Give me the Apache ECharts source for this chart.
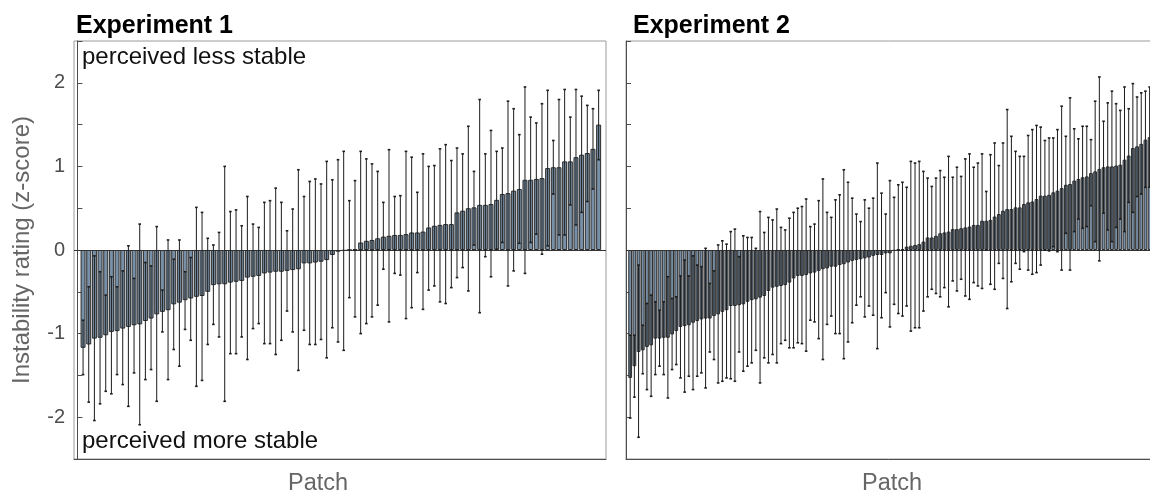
<!DOCTYPE html>
<html>
<head>
<meta charset="utf-8">
<script src="https://cdn.jsdelivr.net/npm/echarts@6/dist/echarts.min.js"></script>
<style>
  html, body { margin: 0; padding: 0; background: #fff; }
  #chart { width: 1150px; height: 496px; }
</style>
</head>
<body>
<div id="chart"></div>
<script>
// Experiment 1: mean rating per patch (sorted) and error bar ends
const exp1Mean = [-1.17, -1.13, -1.06, -1.05, -1.02, -0.98, -0.97, -0.94, -0.92, -0.90,
  -0.89, -0.85, -0.82, -0.77, -0.74, -0.72, -0.65, -0.63, -0.60, -0.58,
  -0.56, -0.55, -0.50, -0.42, -0.41, -0.41, -0.39, -0.38, -0.37, -0.33,
  -0.32, -0.31, -0.28, -0.27, -0.26, -0.26, -0.25, -0.24, -0.23, -0.16,
  -0.16, -0.15, -0.14, -0.12, -0.06, -0.02, -0.01, 0.00, 0.01, 0.09,
  0.11, 0.12, 0.14, 0.16, 0.17, 0.18, 0.18, 0.19, 0.21, 0.21,
  0.22, 0.27, 0.29, 0.30, 0.31, 0.31, 0.45, 0.47, 0.50, 0.51,
  0.54, 0.54, 0.55, 0.60, 0.67, 0.68, 0.71, 0.73, 0.84, 0.84,
  0.85, 0.86, 0.98, 0.99, 0.99, 1.06, 1.06, 1.11, 1.14, 1.16,
  1.21, 1.50];
const exp1Low = [-1.49, -1.82, -2.04, -1.84, -1.69, -1.72, -1.49, -1.61, -1.87, -1.47,
  -2.09, -1.55, -1.43, -1.81, -0.98, -1.55, -1.19, -1.39, -0.95, -1.08,
  -1.63, -1.56, -1.13, -0.89, -1.04, -1.81, -1.24, -1.24, -1.04, -1.31,
  -0.94, -0.88, -1.12, -1.12, -1.25, -1.08, -0.73, -0.98, -1.44, -0.96,
  -1.13, -1.13, -1.07, -1.29, -0.93, -1.10, -1.20, -0.57, -0.80, -1.00,
  -0.88, -0.80, -0.66, -0.23, -0.86, -0.28, -0.30, -0.82, -0.69, -0.27,
  -0.71, -0.48, -0.43, -0.62, -0.64, -0.45, -0.33, -0.21, -0.49, 0.06,
  -0.75, -0.08, -0.32, 0.01, 0.09, -0.43, -0.25, 0.08, -0.28, 0.09,
  0.19, -0.05, 0.05, 0.67, 0.18, 0.18, 0.54, 0.30, 0.45, 0.58,
  0.73, 1.08];
const exp1High = [-0.84, -0.44, -0.07, -0.26, -0.54, -0.32, -0.44, -0.25, 0.05, -0.34,
  0.31, -0.15, -0.19, 0.28, -0.48, 0.12, -0.11, 0.12, -0.26, -0.09,
  0.51, 0.45, 0.14, 0.06, 0.21, 1.00, 0.46, 0.48, 0.29, 0.64,
  0.31, 0.27, 0.57, 0.59, 0.74, 0.57, 0.23, 0.49, 0.96, 0.64,
  0.82, 0.85, 0.79, 1.06, 0.84, 1.08, 1.18, 0.59, 0.83, 1.18,
  1.09, 1.03, 0.94, 0.57, 1.20, 0.64, 0.65, 1.18, 1.11, 0.69,
  1.15, 1.00, 1.01, 1.21, 1.26, 1.07, 1.22, 1.15, 1.48, 0.94,
  1.80, 1.15, 1.43, 1.18, 1.22, 1.78, 1.69, 1.38, 1.95, 1.59,
  1.52, 1.75, 1.91, 1.31, 1.80, 1.92, 1.59, 1.92, 1.84, 1.73,
  1.69, 1.91];

// Experiment 2
const exp2Mean = [-1.53, -1.39, -1.22, -1.20, -1.16, -1.14, -1.06, -1.06, -1.05, -1.05,
  -1.01, -0.97, -0.92, -0.91, -0.90, -0.87, -0.85, -0.83, -0.82, -0.82,
  -0.79, -0.77, -0.74, -0.72, -0.67, -0.67, -0.66, -0.65, -0.62, -0.60,
  -0.59, -0.57, -0.55, -0.49, -0.45, -0.44, -0.43, -0.42, -0.39, -0.34,
  -0.31, -0.31, -0.30, -0.28, -0.27, -0.25, -0.23, -0.22, -0.20, -0.20,
  -0.18, -0.17, -0.15, -0.13, -0.12, -0.11, -0.10, -0.09, -0.07, -0.06,
  -0.06, -0.04, -0.04, -0.01, 0.01, 0.01, 0.04, 0.05, 0.06, 0.07,
  0.10, 0.15, 0.15, 0.17, 0.20, 0.21, 0.22, 0.25, 0.25, 0.26,
  0.27, 0.28, 0.30, 0.30, 0.35, 0.35, 0.36, 0.40, 0.43, 0.47,
  0.49, 0.49, 0.51, 0.51, 0.55, 0.57, 0.58, 0.61, 0.65, 0.65,
  0.66, 0.69, 0.71, 0.74, 0.78, 0.79, 0.83, 0.85, 0.87, 0.88,
  0.92, 0.94, 0.97, 0.99, 1.00, 1.00, 1.01, 1.02, 1.08, 1.13,
  1.22, 1.24, 1.27, 1.32, 1.35, 1.40];
const exp2Low = [-2.01, -1.76, -2.24, -1.48, -1.67, -1.75, -1.49, -1.39, -1.49, -1.77,
  -1.43, -1.37, -1.53, -1.70, -1.51, -1.67, -1.51, -1.47, -1.65, -1.22,
  -1.31, -1.59, -1.57, -1.53, -1.54, -1.57, -1.22, -1.45, -1.39, -1.35,
  -1.20, -1.59, -1.29, -1.35, -1.25, -1.35, -1.12, -1.08, -1.17, -1.17,
  -1.11, -1.12, -1.21, -0.84, -0.86, -1.06, -1.31, -0.89, -0.79, -1.00,
  -1.00, -1.30, -1.10, -0.87, -0.66, -0.56, -0.80, -0.67, -0.78, -1.18,
  -0.81, -0.51, -0.92, -0.65, -0.76, -0.79, -0.67, -0.97, -0.93, -0.93,
  -0.73, -0.56, -0.47, -0.52, -0.56, -0.45, -0.68, -0.37, -0.49, -0.35,
  -0.55, -0.59, -0.39, -0.43, -0.46, 0.00, -0.41, -0.47, -0.16, -0.34,
  -0.70, -0.38, -0.16, -0.23, -0.02, -0.24, -0.29, -0.27, -0.18, 0.00,
  -0.01, 0.04, -0.02, -0.24, 0.20, -0.24, 0.22, 0.37, 0.26, 0.28,
  0.53, 0.10, -0.13, 0.44, 0.24, 0.10, 0.27, 0.37, 0.22, 0.57,
  0.45, 0.64, 0.67, 0.75, 0.75, 0.80];
const exp2High = [-1.02, -1.02, -0.18, -0.90, -0.64, -0.54, -0.62, -0.72, -0.62, -0.32,
  -0.58, -0.56, -0.31, -0.12, -0.31, -0.07, -0.18, -0.20, 0.02, -0.40,
  -0.25, 0.06, 0.11, 0.07, 0.22, 0.25, -0.08, 0.17, 0.15, 0.15,
  0.02, 0.46, 0.21, 0.39, 0.36, 0.49, 0.27, 0.24, 0.38, 0.45,
  0.50, 0.52, 0.61, 0.28, 0.31, 0.59, 0.85, 0.45, 0.39, 0.60,
  0.66, 0.96, 0.81, 0.62, 0.43, 0.34, 0.60, 0.50, 0.62, 1.04,
  0.68, 0.43, 0.83, 0.63, 0.78, 0.81, 0.75, 1.06, 1.04, 1.06,
  0.94, 0.86, 0.76, 0.86, 0.95, 0.87, 1.12, 0.87, 0.99, 0.88,
  1.09, 1.15, 0.99, 1.04, 1.15, 0.70, 1.14, 1.28, 1.01, 1.28,
  1.68, 1.36, 1.18, 1.12, 1.12, 1.37, 1.44, 1.49, 1.47, 1.31,
  1.34, 1.34, 1.44, 1.72, 1.36, 1.82, 1.45, 1.33, 1.48, 1.48,
  1.32, 1.78, 2.07, 1.54, 1.76, 1.90, 1.75, 1.67, 1.95, 1.69,
  1.99, 1.83, 1.88, 1.90, 1.95, 2.00];

const yTickLabels = [-2, -1, 0, 1, 2];

const font = '"Liberation Sans", Arial, Helvetica, sans-serif';
const chart = echarts.init(document.getElementById('chart'));

function barData(means) {
  return means.map((v, i) => [i + 1, v]);
}
function errData(lo, hi) {
  return lo.map((l, i) => [i + 1, l, hi[i]]);
}

// draws one error bar with little caps
function renderErr(params, api) {
  const x = api.value(0);
  const lo = api.coord([x, api.value(1)]);
  const hi = api.coord([x, api.value(2)]);
  const cap = 1.3;
  const st = { stroke: '#1c1c1c', lineWidth: 1 };
  const capSt = { stroke: '#1c1c1c', lineWidth: 1.6 };
  return {
    type: 'group',
    children: [
      { type: 'line', shape: { x1: lo[0], y1: lo[1], x2: hi[0], y2: hi[1] }, style: st },
      { type: 'line', shape: { x1: lo[0] - cap, y1: lo[1], x2: lo[0] + cap, y2: lo[1] }, style: capSt },
      { type: 'line', shape: { x1: hi[0] - cap, y1: hi[1], x2: hi[0] + cap, y2: hi[1] }, style: capSt }
    ]
  };
}

function makeY(idx, labels) {
  return {
    gridIndex: idx,
    type: 'value',
    min: -2.5,
    max: 2.5,
    interval: 0.5,
    axisLine: { show: true, lineStyle: { color: '#4d4d4d', width: 1 } },
    axisTick: { show: true, inside: true, length: 5, lineStyle: { color: '#4d4d4d' } },
    axisLabel: {
      show: labels,
      margin: 9,
      color: '#4d4d4d',
      fontSize: 20,
      fontFamily: font,
      formatter: v => (yTickLabels.indexOf(v) >= 0 ? String(v) : '')
    },
    splitLine: { show: false },
    name: labels ? 'Instability rating (z-score)' : '',
    nameLocation: 'middle',
    nameGap: 40,
    nameTextStyle: { color: '#666', fontSize: 24, fontFamily: font }
  };
}

function makeX(idx, max, min, shift) {
  return {
    gridIndex: idx,
    type: 'value',
    min: min,
    max: max,
    axisLine: { show: true, onZero: false, lineStyle: { color: '#4d4d4d', width: 1 } },
    axisTick: { show: false },
    axisLabel: { show: false },
    splitLine: { show: false },
    name: 'Patch',
    nameLocation: 'middle',
    nameGap: 13,
    nameTextStyle: {
      color: '#666', fontSize: 23.5, fontFamily: font,
      padding: shift > 0 ? [0, shift, 0, 0] : 0
    }
  };
}

const zeroLine = {
  silent: true,
  symbol: 'none',
  label: { show: false },
  lineStyle: { color: '#333', width: 1.2, type: 'solid' },
  data: [{ yAxis: 0 }]
};

chart.setOption({
  animation: false,
  backgroundColor: '#fff',
  grid: [
    { left: 74, top: 41, width: 532, height: 418, show: true, borderColor: '#9a9a9a', borderWidth: 1, outerBoundsMode: 'none' },
    { left: 626, top: 41, width: 532, height: 418, show: true, borderColor: '#9a9a9a', borderWidth: 1, outerBoundsMode: 'none' }
  ],
  xAxis: [makeX(0, 93.3, -0.6, 44), makeX(1, 127, 0, 0)],
  yAxis: [makeY(0, true), makeY(1, false)],
  series: [
    {
      type: 'bar', xAxisIndex: 0, yAxisIndex: 0,
      data: barData(exp1Mean), barWidth: 5,
      itemStyle: { color: '#7890a7', borderColor: '#2b2b2b', borderWidth: 1 },
      markLine: zeroLine
    },
    {
      type: 'custom', xAxisIndex: 0, yAxisIndex: 0,
      data: errData(exp1Low, exp1High), renderItem: renderErr, z: 5
    },
    {
      type: 'bar', xAxisIndex: 1, yAxisIndex: 1,
      data: barData(exp2Mean), barWidth: 3.8,
      itemStyle: { color: '#7890a7', borderColor: '#2b2b2b', borderWidth: 1 },
      markLine: zeroLine
    },
    {
      type: 'custom', xAxisIndex: 1, yAxisIndex: 1,
      data: errData(exp2Low, exp2High), renderItem: renderErr, z: 5
    }
  ],
  graphic: [
    { type: 'text', left: 76, top: 14, style: { text: 'Experiment 1', font: 'bold 25px ' + font, fill: '#000' } },
    { type: 'text', left: 633, top: 14, style: { text: 'Experiment 2', font: 'bold 25px ' + font, fill: '#000' } },
    { type: 'text', left: 82, top: 45, style: { text: 'perceived less stable', font: '24px ' + font, fill: '#111' } },
    { type: 'text', left: 82, top: 429, style: { text: 'perceived more stable', font: '24px ' + font, fill: '#111' } }
  ]
});
</script>
</body>
</html>
